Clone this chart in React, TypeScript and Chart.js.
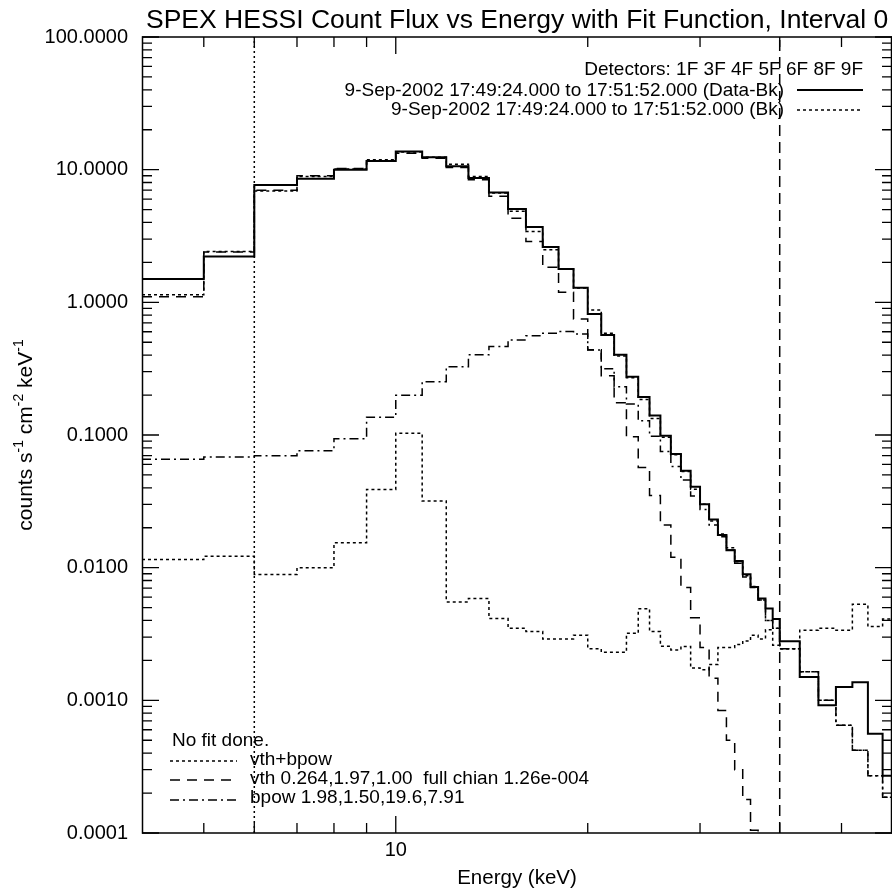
import React, { useEffect, useRef } from 'react';
import { Chart, registerables } from 'chart.js';

Chart.register(...registerables);

// Energy bin edges (keV): 1 keV bins to 40 keV, then 3 keV bins
const energyEdges = [
  4, 5, 6, 7, 8, 9, 10, 11, 12, 13, 14, 15, 16, 17, 18, 19, 20, 21, 22, 23, 24,
  25, 26, 27, 28, 29, 30, 31, 32, 33, 34, 35, 36, 37, 38, 39, 40,
  43, 46, 49, 52, 55, 58, 61,
];

// Data - background (solid)
const dataMinusBk = [
  1.5, 2.22, 7.67, 8.55, 10.0, 11.6, 13.7, 12.4, 10.6, 8.65, 6.74, 5.05, 3.7, 2.61,
  1.78, 1.29, 0.815, 0.568, 0.402, 0.275, 0.193, 0.14, 0.0989, 0.0719, 0.0538,
  0.0407, 0.03, 0.0231, 0.0176, 0.01355, 0.01125, 0.00893, 0.00716, 0.00585,
  0.00492, 0.0041,
  0.00279, 0.0015, 0.00092, 0.00126, 0.00137, 0.00056, 0.00027,
];

// Background (dotted)
const background = [
  0.0115, 0.0122, 0.0089, 0.01, 0.0154, 0.0389, 0.103, 0.0318, 0.00552, 0.00585,
  0.00413, 0.0035, 0.0033, 0.0029, 0.0029, 0.0031, 0.00245, 0.0023, 0.0023, 0.0032,
  0.0049, 0.0033, 0.00256, 0.0024, 0.00255, 0.00175, 0.0017, 0.00186, 0.0025,
  0.0025, 0.00263, 0.0028, 0.0031, 0.0029, 0.0034, 0.0026,
  0.00245, 0.00337, 0.0035, 0.00337, 0.0053, 0.0036, 0.0041,
];

// Fit: vth+bpow (dotted)
const fitTotal = [
  1.14, 2.42, 6.9, 8.9, 10.1, 11.9, 13.6, 12.4, 11.0, 8.9, 6.67, 4.85, 3.42, 2.49,
  1.78, 1.28, 0.877, 0.585, 0.394, 0.27, 0.185, 0.133, 0.096, 0.0709, 0.053, 0.039,
  0.03, 0.0225, 0.0179, 0.0141, 0.0111, 0.0087, 0.0072, 0.0057, 0.004, 0.0035,
  0.00245, 0.00164, 0.001, 0.00065, 0.00042, 0.00027, 0.000186,
];

// Fit: vth component (dashed)
const fitVth = [
  1.1, 2.4, 7.0, 9.0, 10.2, 11.6, 13.3, 12.2, 10.4, 8.4, 6.3, 4.3, 2.88, 1.84, 1.19,
  0.75, 0.44, 0.28, 0.175, 0.097, 0.057, 0.035, 0.021, 0.012, 0.0071, 0.0042,
  0.0025, 0.00147, 0.00084, 0.0005, 0.0003, 0.000179, 0.000105, 0.00005,
  null, null, null, null, null, null, null, null, null,
];

// Fit: bpow component (dash-dot)
const fitBpow = [
  0.0657, 0.0683, 0.0698, 0.0762, 0.0938, 0.136, 0.199, 0.252, 0.327, 0.402, 0.464,
  0.521, 0.559, 0.585, 0.602, 0.578, 0.438, 0.316, 0.231, 0.171, 0.128, 0.098,
  0.075, 0.058, 0.0457, 0.0347, 0.0275, 0.021, 0.0171, 0.0136, 0.0108, 0.0085,
  0.0071, 0.0057, 0.004, 0.0035,
  0.00245, 0.00164, 0.001, 0.00065, 0.00042, 0.00027, 0.000186,
];

// Fit energy range markers (keV)
const fitRangeLow = 6;
const fitRangeHigh = 40;

const xTickValues = [10];
const xMinorValues = [5, 6, 7, 8, 9, 20, 30, 40, 50];
const yTickValues = [0.0001, 0.001, 0.01, 0.1, 1, 10, 100];

const titleText = 'SPEX HESSI Count Flux vs Energy with Fit Function, Interval 0';
const xTitleText = 'Energy (keV)';
const detectorsText = 'Detectors: 1F 3F 4F 5F 6F 8F 9F';
const dataLegendText = '9-Sep-2002 17:49:24.000 to 17:51:52.000 (Data-Bk)';
const bkLegendText = '9-Sep-2002 17:49:24.000 to 17:51:52.000 (Bk)';
const noFitText = 'No fit done.';
const totalLegendText = 'vth+bpow';
const vthLegendText = 'vth 0.264,1.97,1.00  full chian 1.26e-004';
const bpowLegendText = 'bpow 1.98,1.50,19.6,7.91';

const FONT = '"Liberation Sans", Arial, Helvetica, sans-serif';
const DOT = [3, 3];
const DASH = [10, 7];
const DASHDOT = [9, 4, 2, 4];

function hist(vals: (number | null)[]) {
  const pts: { x: number; y: number | null }[] = vals.map((v, i) => ({ x: energyEdges[i], y: v }));
  pts.push({ x: energyEdges[vals.length], y: vals[vals.length - 1] });
  return pts;
}

const framePlugin = {
  id: 'idlFrame',
  afterDraw(chart: any) {
    const { ctx, chartArea: a, scales } = chart;
    const xs = scales.x;
    const ys = scales.y;
    ctx.save();
    ctx.strokeStyle = '#000';
    ctx.fillStyle = '#000';
    ctx.setLineDash([]);
    ctx.lineWidth = 1.5;
    ctx.strokeRect(a.left + 0.5, a.top, a.right - a.left - 1, a.bottom - a.top);
    ctx.lineWidth = 1.3;
    // y ticks
    for (let d = -4; d <= 2; d++) {
      for (let m = 1; m <= 9; m++) {
        const v = m * Math.pow(10, d);
        if (v < 0.0001 * 0.999 || v > 100 * 1.001) continue;
        const p = ys.getPixelForValue(v);
        const len = m === 1 ? 17 : 10;
        ctx.beginPath();
        ctx.moveTo(a.left, p);
        ctx.lineTo(a.left + len, p);
        ctx.moveTo(a.right, p);
        ctx.lineTo(a.right - len, p);
        ctx.stroke();
      }
    }
    // x ticks
    const xt = [...xTickValues.map((v) => [v, 17]), ...xMinorValues.map((v) => [v, 10])];
    xt.forEach(([v, len]) => {
      const p = xs.getPixelForValue(v);
      ctx.beginPath();
      ctx.moveTo(p, a.bottom);
      ctx.lineTo(p, a.bottom - len);
      ctx.moveTo(p, a.top);
      ctx.lineTo(p, a.top + len);
      ctx.stroke();
    });

    // title
    ctx.textBaseline = 'alphabetic';
    ctx.textAlign = 'left';
    ctx.font = `26.5px ${FONT}`;
    ctx.fillText(titleText, 146, 28);

    // x title
    ctx.textAlign = 'center';
    ctx.font = `20.5px ${FONT}`;
    ctx.fillText(xTitleText, (a.left + a.right) / 2, 884);

    // y title with superscripts
    const parts: [string, boolean][] = [
      ['counts s', false], ['-1', true], [' cm', false], ['-2', true], [' keV', false], ['-1', true],
    ];
    const mainF = `21px ${FONT}`;
    const supF = `14px ${FONT}`;
    let total = 0;
    parts.forEach(([t, s]) => { ctx.font = s ? supF : mainF; total += ctx.measureText(t).width; });
    ctx.save();
    ctx.translate(32, (a.top + a.bottom) / 2);
    ctx.rotate(-Math.PI / 2);
    ctx.textAlign = 'left';
    let cx = -total / 2;
    parts.forEach(([t, s]) => {
      ctx.font = s ? supF : mainF;
      ctx.fillText(t, cx, s ? -9 : 0);
      cx += ctx.measureText(t).width;
    });
    ctx.restore();

    // top-right legend
    ctx.font = `19px ${FONT}`;
    ctx.textAlign = 'right';
    ctx.fillText(detectorsText, 863, 75);
    ctx.fillText(dataLegendText, 784, 96);
    ctx.fillText(bkLegendText, 784, 115);
    ctx.lineWidth = 2;
    ctx.beginPath();
    ctx.moveTo(797, 90); ctx.lineTo(863, 90); ctx.stroke();
    ctx.lineWidth = 1.5;
    ctx.setLineDash(DOT);
    ctx.beginPath();
    ctx.moveTo(797, 110); ctx.lineTo(863, 110); ctx.stroke();

    // bottom-left legend
    ctx.setLineDash([]);
    ctx.textAlign = 'left';
    ctx.fillText(noFitText, 172, 746);
    ctx.fillText(totalLegendText, 250, 765);
    ctx.fillText(vthLegendText, 250, 784);
    ctx.fillText(bpowLegendText, 250, 803);
    const samples: [number, number[]][] = [[761, DOT], [780, DASH], [800, DASHDOT]];
    samples.forEach(([y, dash]) => {
      ctx.setLineDash(dash);
      ctx.beginPath();
      ctx.moveTo(170, y); ctx.lineTo(237, y); ctx.stroke();
    });
    ctx.restore();
  },
};

export default function App() {
  const ref = useRef<HTMLCanvasElement | null>(null);
  useEffect(() => {
    if (!ref.current) return;
    const common = { pointRadius: 0, fill: false, borderColor: '#000', spanGaps: false, clip: 0 };
    const chart = new Chart(ref.current, {
      type: 'line',
      data: {
        datasets: [
          { ...common, label: 'Bk', data: hist(background), stepped: 'before', borderWidth: 1.5, borderDash: DOT },
          { ...common, label: 'bpow', data: hist(fitBpow), stepped: 'before', borderWidth: 1.5, borderDash: DASHDOT },
          { ...common, label: 'vth', data: hist(fitVth), stepped: 'before', borderWidth: 1.5, borderDash: DASH },
          { ...common, label: 'vth+bpow', data: hist(fitTotal), stepped: 'before', borderWidth: 1.5, borderDash: DOT },
          { ...common, label: 'Data-Bk', data: hist(dataMinusBk), stepped: 'before', borderWidth: 2 },
          { ...common, label: 'lo', data: [{ x: fitRangeLow, y: yTickValues[0] }, { x: fitRangeLow, y: yTickValues[yTickValues.length - 1] }], borderWidth: 1.5, borderDash: [2, 3] },
          { ...common, label: 'hi', data: [{ x: fitRangeHigh, y: yTickValues[0] }, { x: fitRangeHigh, y: yTickValues[yTickValues.length - 1] }], borderWidth: 1.5, borderDash: [11, 6] },
        ] as any,
      },
      options: {
        responsive: false,
        animation: false,
        devicePixelRatio: 1,
        layout: { padding: { left: 0, right: 0, top: 37, bottom: 0 } },
        plugins: { legend: { display: false }, title: { display: false }, tooltip: { enabled: false } },
        elements: { point: { radius: 0 }, line: { tension: 0 } },
        scales: {
          x: {
            type: 'logarithmic',
            min: 4,
            max: 60,
            afterFit: (s: any) => { s.height = 56; },
            afterBuildTicks: (s: any) => { s.ticks = xTickValues.map((v) => ({ value: v })); },
            ticks: {
              callback: (v: any) => String(v),
              font: { family: FONT, size: 20 },
              color: '#000',
              maxRotation: 0,
              autoSkip: false,
              padding: 5,
            },
            grid: { display: false, drawTicks: false },
            border: { display: false },
          },
          y: {
            type: 'logarithmic',
            min: 0.0001,
            max: 100,
            afterFit: (s: any) => { s.width = 142; },
            afterBuildTicks: (s: any) => { s.ticks = yTickValues.map((v) => ({ value: v })); },
            ticks: {
              callback: (v: any) => Number(v).toFixed(4),
              font: { family: FONT, size: 20 },
              color: '#000',
              autoSkip: false,
              padding: 14,
            },
            grid: { display: false, drawTicks: false },
            border: { display: false },
          },
        },
      } as any,
      plugins: [framePlugin],
    });
    return () => chart.destroy();
  }, []);
  return (
    <div style={{ position: 'absolute', left: 0, top: 0, width: 892, height: 889, overflow: 'hidden', background: '#fff' }}>
      <canvas ref={ref} width={892} height={889} style={{ width: 892, height: 889, display: 'block' }} />
    </div>
  );
}
